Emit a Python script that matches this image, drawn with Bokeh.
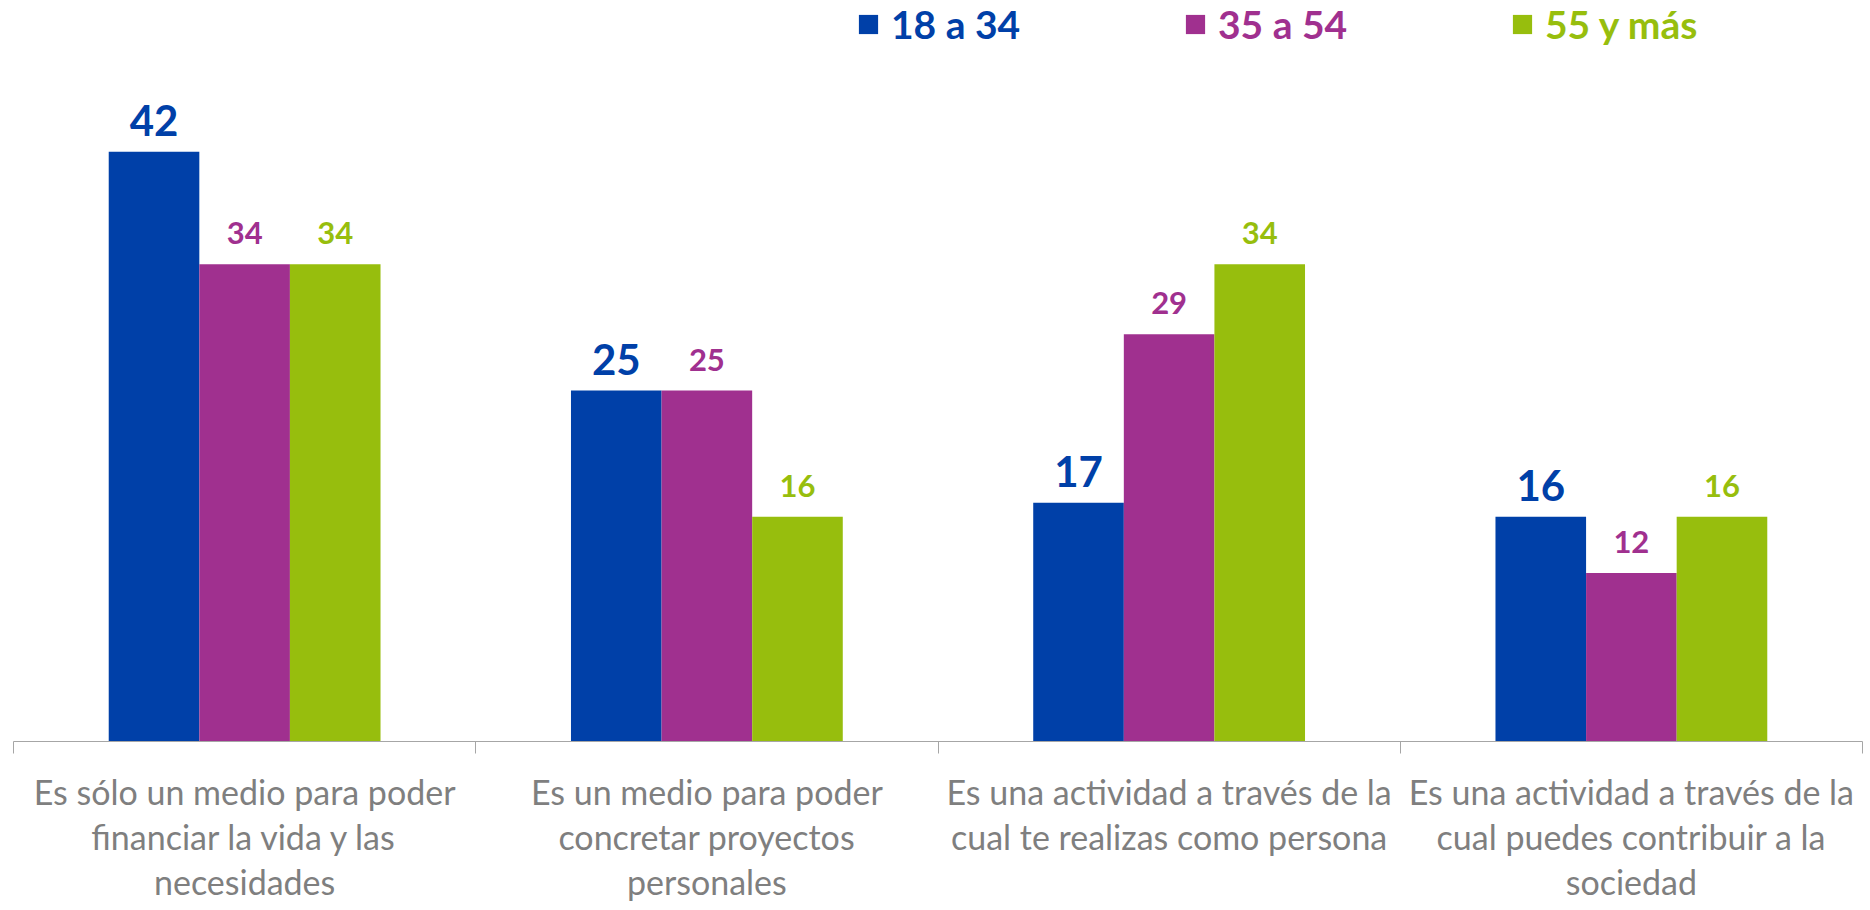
from bokeh.plotting import figure
from bokeh.models import ColumnDataSource, FixedTicker, Legend, LegendItem, Range1d
from bokeh.transform import dodge
from bokeh.core.properties import value
from bokeh.embed import file_html
from bokeh.resources import INLINE

categories = [
    "Es sólo un medio para poder\nfinanciar la vida y las\nnecesidades",
    "Es un medio para poder\nconcretar proyectos\npersonales",
    "Es una actividad a través de la\ncual te realizas como persona",
    "Es una actividad a través de la\ncual puedes contribuir a la\nsociedad",
]
series = ["18 a 34", "35 a 54", "55 y más"]
v_18_34 = [42, 25, 17, 16]
v_35_54 = [34, 25, 29, 12]
v_55_mas = [34, 16, 34, 16]
values = [v_18_34, v_35_54, v_55_mas]
colors = ["#0040A8", "#A0308F", "#97BE0D"]
label_sizes = ["42px", "31px", "31px"]

centers = [i + 0.5 for i in range(len(categories))]
bounds = [float(i) for i in range(len(categories) + 1)]

W, H = 1866, 910
p = figure(width=W, height=H, output_backend="svg", toolbar_location=None,
           x_range=Range1d(0, len(categories)), y_range=Range1d(0, 52.78),
           y_axis_location=None, min_border_left=13, min_border_right=4,
           min_border_top=0, min_border_bottom=169)
p.outline_line_color = None
p.grid.visible = False
p.background_fill_color = "white"
p.border_fill_color = "white"

bw = 0.196
offsets = [-bw, 0.0, bw]
leg_x = [843, 1170, 1497]
for k in range(3):
    src = ColumnDataSource(dict(x=centers, y=values[k], lab=[str(v) for v in values[k]]))
    r = p.vbar(x=dodge("x", offsets[k], range=p.x_range), top="y", width=bw, source=src,
               fill_color=colors[k], line_color=None)
    p.text(x=dodge("x", offsets[k], range=p.x_range), y="y", text="lab", source=src,
           text_align="center", text_baseline="alphabetic", y_offset=-31,
           text_color=colors[k], text_font=value("Lato"), text_font_style="bold",
           text_font_size=label_sizes[k])
    leg = Legend(items=[LegendItem(label=series[k], renderers=[r])],
                 location=(leg_x[k], 694), orientation="horizontal",
                 label_text_font="Lato", label_text_font_style="bold",
                 label_text_font_size="39px", label_text_color=colors[k],
                 glyph_width=24, glyph_height=24, label_standoff=11,
                 padding=0, margin=0, spacing=0,
                 border_line_color=None, background_fill_alpha=0)
    p.add_layout(leg, "center")

ax = p.xaxis[0]
ax.ticker = FixedTicker(ticks=centers, minor_ticks=bounds)
ax.major_label_overrides = {c: lab for c, lab in zip(centers, categories)}
ax.major_tick_line_color = None
ax.major_tick_out = 0
ax.major_tick_in = 0
ax.minor_tick_out = 12
ax.minor_tick_in = 0
ax.minor_tick_line_color = "#A6A6A6"
ax.minor_tick_line_width = 1
ax.axis_line_color = "#A6A6A6"
ax.axis_line_width = 1
ax.major_label_text_font = "Lato"
ax.major_label_text_font_size = "34px"
ax.major_label_text_color = "#7F7F7F"
ax.major_label_text_line_height = 1.1
ax.major_label_standoff = 17

open("out.html", "w").write(file_html(p, INLINE))
